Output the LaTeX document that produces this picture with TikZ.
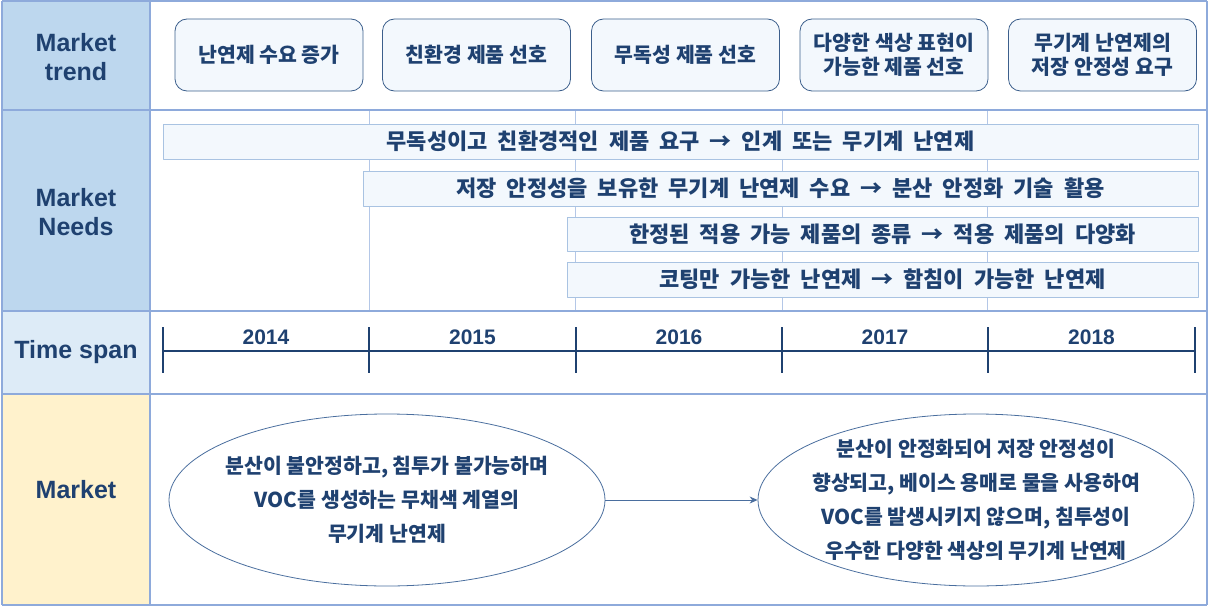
\documentclass[tikz,border=0pt]{standalone}
\usepackage{fontspec}
\setmainfont{Liberation Sans}
\newfontfamily\kr{Noto Sans CJK KR}[BoldFont={Noto Sans CJK KR Black}]
\newcommand\widesp{\spaceskip=10pt\relax}
\usetikzlibrary{shapes.geometric,arrows.meta}
\definecolor{navy}{HTML}{1F4170}
\definecolor{gridblue}{HTML}{8EAADB}
\definecolor{headblue}{HTML}{BDD7EE}
\definecolor{timeblue}{HTML}{DDEBF7}
\definecolor{mktyellow}{HTML}{FFF2CC}
\definecolor{paleblue}{HTML}{F3F8FD}
\definecolor{boxline}{HTML}{3C5F8C}
\definecolor{barline}{HTML}{A9C3E2}
\definecolor{thinline}{HTML}{B4C7E7}
\definecolor{ovalline}{HTML}{4A6E9E}
\begin{document}
\begin{tikzpicture}[x=1pt, y=-1pt, line join=round, >={Stealth[length=8pt,width=7pt]}]
	\tikzset{rowhead/.style={font=\bfseries\fontsize{25}{29}\selectfont, text=navy, align=center},
		trendbox/.style={draw=boxline, fill=paleblue, rounded corners=12pt, line width=0.8pt, minimum width=188pt, minimum height=72pt, align=center, text=navy, font=\kr\bfseries\fontsize{20.5}{24}\selectfont},
		needbar/.style={draw=barline, fill=paleblue, line width=0.8pt, inner sep=0pt, text=navy, font=\kr\bfseries\fontsize{22}{24}\selectfont\widesp},
		oval/.style={ellipse, draw=ovalline, line width=0.8pt, inner sep=0pt, minimum width=436pt, minimum height=172pt},
		ovaltext/.style={align=center, text=navy, font=\kr\bfseries\fontsize{20.5}{34}\selectfont},
		year/.style={font=\bfseries\fontsize{21}{22}\selectfont, text=navy}}
	\useasboundingbox (0,0) rectangle (1210,607);
	% row heads
	\fill[headblue] (2,1) rectangle (150,311);
	\fill[timeblue] (2,311) rectangle (150,394);
	\fill[mktyellow] (2,394) rectangle (150,605);
	% year lines in the needs row
	\draw[thinline, line width=0.8pt] (369,110)--(369,311) (575,110)--(575,311) (782,110)--(782,311) (987,110)--(987,311);
	% grid
	\draw[gridblue, line width=1.6pt] (2,1)--(1207,1) (2,110)--(1207,110) (2,311)--(1207,311) (2,394)--(1207,394) (2,605)--(1207,605);
	\draw[gridblue, line width=1.6pt] (2,1)--(2,605) (150,1)--(150,605) (1207,1)--(1207,605);
	\node[rowhead] (hTrend) at (76,57) {Market\\trend};
	\node[rowhead] (hNeeds) at (76,212) {Market\\Needs};
	\node[rowhead] (hSpan) at (76,352) {Time span};
	\node[rowhead] (hMkt) at (76,490) {Market};
	% market trend
	\node[trendbox] (trend1) at (269,55) {난연제 수요 증가};
	\node[trendbox] (trend2) at (476.5,55) {친환경 제품 선호};
	\node[trendbox] (trend3) at (685.5,55) {무독성 제품 선호};
	\node[trendbox] (trend4) at (894,55) {다양한 색상 표현이\\가능한 제품 선호};
	\node[trendbox] (trend5) at (1102.5,55) {무기계 난연제의\\저장 안정성 요구};
	% market needs
	\node[needbar, minimum width=1035pt, minimum height=35pt] (need1) at (680.5,141.5) {무독성이고 친환경적인 제품 요구 → 인계 또는 무기계 난연제};
	\node[needbar, minimum width=835pt, minimum height=35pt] (need2) at (780.5,188.5) {저장 안정성을 보유한 무기계 난연제 수요 → 분산 안정화 기술 활용};
	\node[needbar, minimum width=631pt, minimum height=34pt] (need3) at (882.5,234.5) {한정된 적용 가능 제품의 종류 → 적용 제품의 다양화};
	\node[needbar, minimum width=631pt, minimum height=35pt] (need4) at (882.5,279.5) {코팅만 가능한 난연제 → 함침이 가능한 난연제};
	% time span
	\draw[navy, line width=2pt] (163,351)--(1195,351);
	\foreach \x in {163,369,576,782,988,1195}
		\draw[navy, line width=2pt] (\x,327)--(\x,373);
	\node[year] (y2014) at (266,337) {2014};
	\node[year] (y2015) at (472.5,337) {2015};
	\node[year] (y2016) at (679,337) {2016};
	\node[year] (y2017) at (885,337) {2017};
	\node[year] (y2018) at (1091.5,337) {2018};
	% market
	\node[oval] (lmkt) at (387,500) {};
	\node[ovaltext] (lmktText) at (lmkt.center) {분산이 불안정하고, 침투가 불가능하며\\VOC를 생성하는 무채색 계열의\\무기계 난연제};
	\node[oval] (rmkt) at (976,500) {};
	\node[ovaltext] (rmktText) at (rmkt.center) {분산이 안정화되어 저장 안정성이\\향상되고, 베이스 용매로 물을 사용하여\\VOC를 발생시키지 않으며, 침투성이\\우수한 다양한 색상의 무기계 난연제};
	\draw[->, ovalline, line width=0.8pt] (lmkt.east)--(rmkt.west);
\end{tikzpicture}
\end{document}
